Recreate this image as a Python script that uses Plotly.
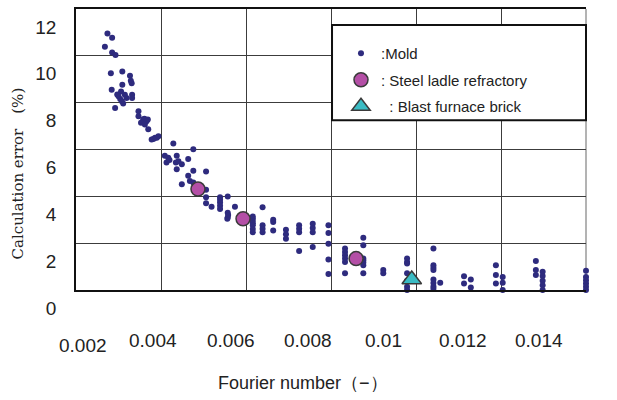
import plotly.graph_objects as go

# ---------------- data ----------------
mold_x = [0.00274, 0.00285, 0.00268, 0.00285, 0.00293,
          0.00282, 0.00309, 0.00327, 0.00329, 0.00331, 0.00309,
          0.00284, 0.00306, 0.00300, 0.00315, 0.00332,
          0.00332, 0.00304, 0.00319, 0.00311, 0.00292, 0.00308, 0.00297,
          0.00347, 0.00347, 0.00358, 0.00361, 0.00369, 0.00366, 0.00353, 0.00362,
          0.00370, 0.00378, 0.00386, 0.00390, 0.00394, 0.00382, 0.00429, 0.00476,
          0.00409, 0.00417, 0.00437, 0.00413, 0.00435, 0.00449, 0.00464, 0.00437,
          0.00476, 0.00506, 0.00464, 0.00468, 0.00449, 0.00476, 0.00441, 0.00420,
          0.00506, 0.00506, 0.00506, 0.00519,
          0.00539, 0.00539, 0.00539, 0.00539, 0.00539, 0.00557, 0.00574, 0.00557,
          0.00557, 0.00556, 0.00558,
          0.00616, 0.00616, 0.00616, 0.00616, 0.00616, 0.00616, 0.00616,
          0.00639, 0.00639, 0.00639, 0.00639,
          0.00664, 0.00664, 0.00664,
          0.00694, 0.00694, 0.00694,
          0.00725, 0.00725, 0.00725, 0.00725,
          0.00757, 0.00757, 0.00757, 0.00757,
          0.00794, 0.00794, 0.00794, 0.00794, 0.00794,
          0.00833, 0.00833, 0.00833, 0.00833, 0.00833, 0.00833,
          0.00876, 0.00876, 0.00876, 0.00876, 0.00876, 0.00876, 0.00876,
          0.00923, 0.00923,
          0.00979, 0.00979, 0.00979, 0.00979, 0.00979, 0.00979, 0.00979,
          0.01041, 0.01041, 0.01041, 0.01041, 0.01041, 0.01041, 0.01041, 0.01041, 0.01057,
          0.01113, 0.01113, 0.01129, 0.01129,
          0.01188, 0.01188, 0.01188, 0.01204, 0.01204, 0.01204,
          0.01282, 0.01282, 0.01282, 0.01298, 0.01298, 0.01298, 0.01298, 0.01298,
          0.01400, 0.01400, 0.01400, 0.01400, 0.01400, 0.01400]
mold_y = [10.95, 10.77, 10.39, 10.14, 10.04,
          9.26, 9.33, 9.15, 8.94, 8.83, 8.77,
          8.55, 8.48, 8.27, 8.34, 8.34,
          8.20, 8.16, 8.20, 7.96, 7.77, 8.06, 8.35,
          7.63, 7.42, 7.28, 7.31, 7.28, 7.21, 7.14, 7.07,
          6.86, 6.43, 6.50, 6.50, 6.57, 6.45, 6.26, 6.01,
          5.73, 5.65, 5.73, 5.44, 5.44, 5.37, 5.59, 5.16,
          5.09, 5.06, 4.88, 4.66, 4.52, 4.59, 5.50, 5.55,
          4.28, 3.96, 3.70, 3.56,
          3.96, 3.85, 3.74, 3.60, 3.46, 3.99, 3.56, 3.30,
          3.10, 3.04, 3.20,
          3.14, 3.05, 2.95, 2.85, 2.76, 2.60, 2.47,
          3.53, 2.76, 2.62, 2.47,
          3.00, 2.90, 2.54,
          2.57, 2.38, 2.19,
          2.76, 2.62, 2.47, 1.67,
          2.83, 2.65, 2.47, 1.84,
          2.76, 2.43, 1.98, 1.30, 0.68,
          1.77, 1.62, 1.48, 1.34, 1.20, 0.71,
          2.23, 1.91, 1.34, 1.27, 1.17, 1.06, 0.71,
          0.85, 0.71,
          1.34, 1.20, 1.13, 0.71, 0.40, 0.14, 0.00,
          1.77, 1.06, 0.95, 0.85, 0.45, 0.30, 0.15, 0.05, 0.31,
          0.59, 0.28, 0.45, 0.11,
          1.06, 0.64, 0.28, 0.56, 0.31, 0.00,
          1.24, 0.85, 0.64, 0.78, 0.60, 0.40, 0.20, 0.00,
          0.82, 0.56, 0.42, 0.28, 0.14, 0.00]

ladle_x = [0.00487, 0.00593, 0.00859]
ladle_y = [4.31, 3.04, 1.34]

blast_x = [0.00990]
blast_y = [0.45]

series_names = [":Mold", ": Steel ladle refractory", "  : Blast furnace brick"]

x_grid = [0.002, 0.004, 0.006, 0.008, 0.010, 0.012, 0.014]
x_tick_text = ["0.002", "0.004", "0.006", "0.008", "0.01", "0.012", "0.014"]
y_ticks = [0, 2, 4, 6, 8, 10, 12]

x_title = "Fourier number（−）"
y_title = "Calculation error\u3000(%)"

# label placement in paper coordinates (labels are offset from grid in original)
x_label_pos = [0.014, 0.150, 0.303, 0.454, 0.603, 0.758, 0.907]
x_label_y = [-0.198, -0.178, -0.178, -0.178, -0.178, -0.178, -0.178]

# ---------------- figure ----------------
fig = go.Figure()
fig.add_trace(go.Scatter(
    x=mold_x, y=mold_y, mode="markers", name=series_names[0], legendgroup="a",
    marker=dict(size=6, color="#2e2b7e"), cliponaxis=False))
fig.add_trace(go.Scatter(
    x=ladle_x, y=ladle_y, mode="markers", name=series_names[1], legendgroup="b",
    marker=dict(size=14, color="#b44fa6", line=dict(color="#3a3a3a", width=1.5)),
    cliponaxis=False))
fig.add_trace(go.Scatter(
    x=blast_x, y=blast_y, mode="markers", name=series_names[2], legendgroup="c",
    marker=dict(size=17, symbol="triangle-up", color="#3bbcc4",
                line=dict(color="#3a3a3a", width=1.5)),
    cliponaxis=False))

annotations = []
for txt, px, py in zip(x_tick_text, x_label_pos, x_label_y):
    annotations.append(dict(text=txt, x=px, y=py, xref="paper", yref="paper",
                            showarrow=False, xanchor="center", yanchor="middle",
                            font=dict(family="Liberation Sans, Arial, sans-serif",
                                      size=19, color="#222")))
annotations.append(dict(text=x_title, x=0.446, y=-0.332, xref="paper", yref="paper",
                        showarrow=False, xanchor="center", yanchor="middle",
                        font=dict(family="Liberation Sans, Arial, sans-serif",
                                  size=18, color="#222")))
annotations.append(dict(text=y_title, x=-0.1147, y=0.413, xref="paper", yref="paper",
                        showarrow=False, xanchor="center", yanchor="middle",
                        textangle=-90,
                        font=dict(family="DejaVu Serif, Liberation Serif, serif",
                                  size=15, color="#222")))

shapes = [
    dict(type="line", xref="paper", yref="paper", x0=1, x1=1, y0=0, y1=1,
         line=dict(color="#9a9a9a", width=1.5), layer="below"),
    dict(type="rect", xref="paper", yref="paper", x0=0.502, x1=1.0,
         y0=0.604, y1=0.943, line=dict(color="#111", width=2),
         fillcolor="white", layer="above"),
]

fig.update_layout(
    width=617, height=400,
    margin=dict(l=76, r=31, t=7, b=110),
    paper_bgcolor="white", plot_bgcolor="white",
    showlegend=True,
    legend=dict(x=0.5196, y=0.900, xanchor="left", yanchor="top",
                bgcolor="rgba(0,0,0,0)", borderwidth=0, tracegroupgap=4,
                font=dict(family="Liberation Sans, Arial, sans-serif",
                          size=15, color="#222")),
    annotations=annotations,
    shapes=shapes,
    xaxis=dict(range=[0.002, 0.014], tickvals=x_grid, showticklabels=False,
               showgrid=True, gridcolor="#3c3c3c", gridwidth=1,
               showline=True, linecolor="#111", linewidth=1.5, mirror=True,
               ticks="", zeroline=False),
    yaxis=dict(range=[0, 12], tickvals=y_ticks, showgrid=True,
               gridcolor="#3c3c3c", gridwidth=1,
               showline=True, linecolor="#111", linewidth=1.5, mirror=False,
               ticks="", zeroline=False, ticklabelshift=18, ticklabelstandoff=14,
               tickfont=dict(family="Liberation Sans, Arial, sans-serif",
                             size=19, color="#222")),
)

fig.write_html("out.html", config={"displayModeBar": False},
               post_script="document.body.style.margin='0';document.body.style.padding='0';")
